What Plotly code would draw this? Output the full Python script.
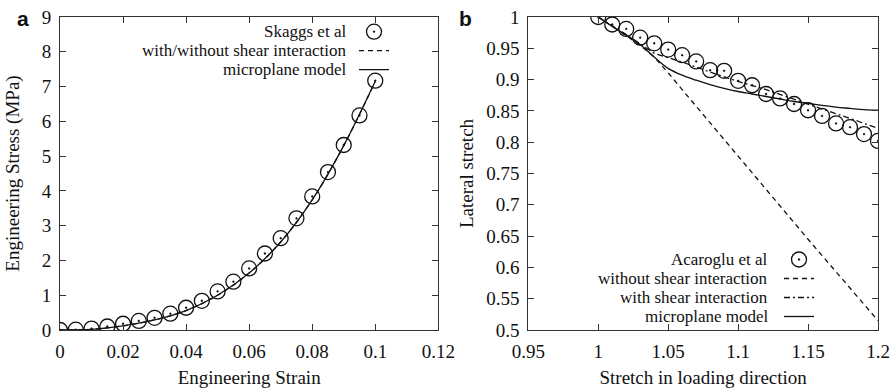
import plotly.graph_objects as go

# ---------------- Panel a data ----------------
a_strain = [0, 0.005, 0.01, 0.015, 0.02, 0.025, 0.03, 0.035, 0.04, 0.045, 0.05,
            0.055, 0.06, 0.065, 0.07, 0.075, 0.08, 0.085, 0.09, 0.095, 0.1]
a_stress_skaggs = [0.0, 0.01, 0.04, 0.1, 0.18, 0.26, 0.35, 0.47, 0.64, 0.84, 1.11,
                   1.39, 1.77, 2.2, 2.64, 3.21, 3.84, 4.54, 5.32, 6.17, 7.17]
a_model_strain = [0, 0.01, 0.02, 0.03, 0.04, 0.05, 0.06, 0.07, 0.08, 0.09, 0.1]
a_model_stress = [0.0, 0.02, 0.12, 0.29, 0.56, 1.0, 1.64, 2.53, 3.74, 5.3, 7.15]

a_xticks = [0, 0.02, 0.04, 0.06, 0.08, 0.1, 0.12]
a_xticktext = ["0", "0.02", "0.04", "0.06", "0.08", "0.1", "0.12"]
a_yticks = [0, 1, 2, 3, 4, 5, 6, 7, 8, 9]
a_yticktext = ["0", "1", "2", "3", "4", "5", "6", "7", "8", "9"]

# ---------------- Panel b data ----------------
b_stretch = [1.0, 1.01, 1.02, 1.03, 1.04, 1.05, 1.06, 1.07, 1.08, 1.09, 1.1,
             1.11, 1.12, 1.13, 1.14, 1.15, 1.16, 1.17, 1.18, 1.19, 1.2]
b_lateral_acaroglu = [1.0, 0.988, 0.981, 0.967, 0.958, 0.948, 0.939, 0.929, 0.915, 0.914, 0.898,
                      0.891, 0.877, 0.870, 0.861, 0.851, 0.842, 0.830, 0.824, 0.813, 0.802]
b_without_x = [1.0, 1.01, 1.02, 1.03, 1.04, 1.05, 1.06, 1.1, 1.15, 1.2]
b_without_y = [1.0, 0.985, 0.97, 0.955, 0.936, 0.911, 0.884, 0.777, 0.645, 0.515]
b_with_x = [1.0, 1.02, 1.04, 1.06, 1.08, 1.1, 1.12, 1.14, 1.16, 1.18, 1.2]
b_with_y = [1.0, 0.972, 0.942, 0.928, 0.912, 0.897, 0.884, 0.868, 0.853, 0.838, 0.822]
b_micro_x = [1.0, 1.01, 1.02, 1.03, 1.04, 1.05, 1.06, 1.07, 1.08, 1.09, 1.1,
             1.11, 1.12, 1.13, 1.14, 1.15, 1.16, 1.17, 1.18, 1.19, 1.2]
b_micro_y = [1.0, 0.985, 0.971, 0.956, 0.936, 0.918, 0.907, 0.899, 0.892, 0.886, 0.881,
             0.877, 0.873, 0.869, 0.865, 0.862, 0.859, 0.856, 0.854, 0.852, 0.851]

b_xticks = [0.95, 1.0, 1.05, 1.1, 1.15, 1.2]
b_xticktext = ["0.95", "1", "1.05", "1.1", "1.15", "1.2"]
b_yticks = [0.5, 0.55, 0.6, 0.65, 0.7, 0.75, 0.8, 0.85, 0.9, 0.95, 1.0]
b_yticktext = ["0.5", "0.55", "0.6", "0.65", "0.7", "0.75", "0.8", "0.85", "0.9", "0.95", "1"]

legend_a_labels = ["Skaggs et al", "with/without shear interaction", "microplane model"]
legend_b_labels = ["Acaroglu et al", "without shear interaction", "with shear interaction", "microplane model"]

SERIF = "Liberation Serif, Times New Roman, serif"
BLACK = "#111111"
FRAME = "#333333"

marker_style = dict(symbol="circle-open-dot", size=15, color=BLACK, line=dict(width=1.3, color=BLACK))

fig = go.Figure()

# Panel a
fig.add_trace(go.Scatter(x=a_strain, y=a_stress_skaggs, mode="markers", marker=marker_style,
                         name="", hovertemplate=legend_a_labels[0] + "<extra></extra>",
                         xaxis="x", yaxis="y", legend="legend"))
fig.add_trace(go.Scatter(x=a_model_strain, y=a_model_stress, mode="lines", line_shape="spline",
                         line=dict(color=BLACK, width=1.3, dash="5px,4px"), name="",
                         hovertemplate=legend_a_labels[1] + "<extra></extra>",
                         xaxis="x", yaxis="y", legend="legend"))
fig.add_trace(go.Scatter(x=a_model_strain, y=a_model_stress, mode="lines", line_shape="spline",
                         line=dict(color=BLACK, width=1.3), name="",
                         hovertemplate=legend_a_labels[2] + "<extra></extra>",
                         xaxis="x", yaxis="y", legend="legend"))

# Panel b
fig.add_trace(go.Scatter(x=b_stretch, y=b_lateral_acaroglu, mode="markers", marker=marker_style,
                         name="", hovertemplate=legend_b_labels[0] + "<extra></extra>",
                         xaxis="x2", yaxis="y2", legend="legend2"))
fig.add_trace(go.Scatter(x=b_without_x, y=b_without_y, mode="lines",
                         line=dict(color=BLACK, width=1.3, dash="5px,4px"), name="",
                         hovertemplate=legend_b_labels[1] + "<extra></extra>",
                         xaxis="x2", yaxis="y2", legend="legend2"))
fig.add_trace(go.Scatter(x=b_with_x, y=b_with_y, mode="lines",
                         line=dict(color=BLACK, width=1.3, dash="6px,3px,2px,3px"), name="",
                         hovertemplate=legend_b_labels[2] + "<extra></extra>",
                         xaxis="x2", yaxis="y2", legend="legend2"))
fig.add_trace(go.Scatter(x=b_micro_x, y=b_micro_y, mode="lines", line_shape="spline",
                         line=dict(color=BLACK, width=1.3), name="",
                         hovertemplate=legend_b_labels[3] + "<extra></extra>",
                         xaxis="x2", yaxis="y2", legend="legend2"))

axis_common = dict(showline=True, linecolor=FRAME, linewidth=1, mirror="ticks",
                   ticks="inside", ticklen=6, tickcolor=FRAME, tickwidth=1,
                   showgrid=False, zeroline=False, automargin=False,
                   tickfont=dict(family=SERIF, size=19, color=BLACK))
title_font = dict(family=SERIF, size=19, color=BLACK)

W, H = 893, 388
ml, mr, mt, mb = 60, 15, 17, 58
pw = W - ml - mr
ph = H - mt - mb

def px_x(p):
    return (p - ml) / pw

def px_y(p):
    return (H - mb - p) / ph

ROW = 19
a_row0 = 31.7
b_row0 = 259.5

fig.update_layout(
    width=W, height=H,
    margin=dict(l=ml, r=mr, t=mt, b=mb, autoexpand=False),
    paper_bgcolor="white", plot_bgcolor="white",
    xaxis=dict(domain=[0, px_x(438.3)], range=[0, 0.12], tickvals=a_xticks, ticktext=a_xticktext,
               ticklabelstandoff=4,
               title=dict(text="Engineering Strain", font=title_font, standoff=16), anchor="y", **axis_common),
    yaxis=dict(domain=[0, 1], range=[0, 9], tickvals=a_yticks, ticktext=a_yticktext,
               ticklabelstandoff=4,
               title=dict(text="Engineering Stress (MPa)", font=title_font, standoff=17), anchor="x", **axis_common),
    xaxis2=dict(domain=[px_x(528.3), 1], range=[0.95, 1.2], tickvals=b_xticks, ticktext=b_xticktext,
                ticklabelstandoff=4,
                title=dict(text="Stretch in loading direction", font=title_font, standoff=16), anchor="y2", **axis_common),
    yaxis2=dict(domain=[0, 1], range=[0.5, 1.0], tickvals=b_yticks, ticktext=b_yticktext,
                ticklabelstandoff=4,
                title=dict(text="Lateral stretch", font=title_font, standoff=7), anchor="x2", **axis_common),
    legend=dict(x=px_x(354), y=px_y(a_row0 - 14.5), xanchor="left", yanchor="top",
                bgcolor="rgba(0,0,0,0)", font=dict(size=10), itemwidth=30, tracegroupgap=0),
    legend2=dict(x=px_x(779), y=px_y(b_row0 - 14.5), xanchor="left", yanchor="top",
                 bgcolor="rgba(0,0,0,0)", font=dict(size=10), itemwidth=30, tracegroupgap=0),
    showlegend=True,
)

annotations = []
for i, lab in enumerate(legend_a_labels):
    annotations.append(dict(text=lab, x=px_x(348), y=px_y(a_row0 + ROW * i), xref="paper", yref="paper",
                            xanchor="right", yanchor="middle", showarrow=False,
                            font=dict(family=SERIF, size=17, color=BLACK)))
for i, lab in enumerate(legend_b_labels):
    annotations.append(dict(text=lab, x=px_x(770), y=px_y(b_row0 + ROW * i), xref="paper", yref="paper",
                            xanchor="right", yanchor="middle", showarrow=False,
                            font=dict(family=SERIF, size=17, color=BLACK)))
annotations.append(dict(text="<b>a</b>", x=px_x(22.5), y=px_y(18), xref="paper", yref="paper",
                        xanchor="center", yanchor="middle", showarrow=False,
                        font=dict(family="Liberation Sans, Arial, sans-serif", size=21, color=BLACK)))
annotations.append(dict(text="<b>b</b>", x=px_x(465.5), y=px_y(18), xref="paper", yref="paper",
                        xanchor="center", yanchor="middle", showarrow=False,
                        font=dict(family="Liberation Sans, Arial, sans-serif", size=21, color=BLACK)))
fig.update_layout(annotations=annotations)

fig.write_html("out.html")
